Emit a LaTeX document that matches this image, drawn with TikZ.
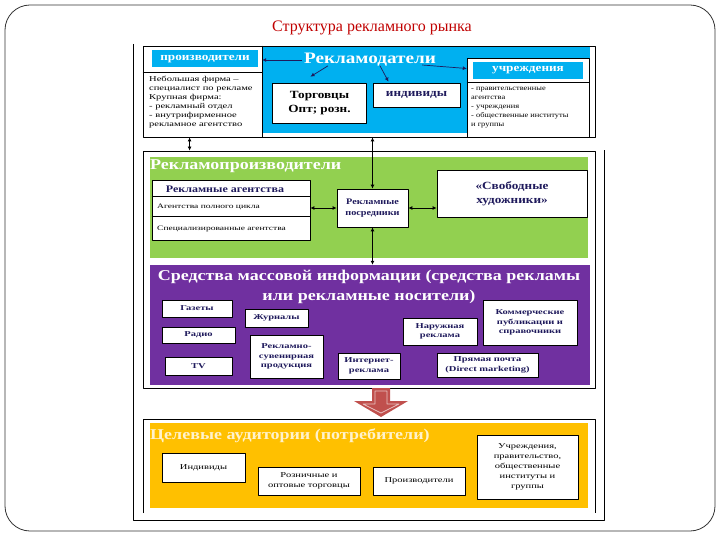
\documentclass[tikz,border=0pt]{standalone}
\usepackage{fontspec}
\setmainfont{Liberation Serif}
\newfontfamily\wf{Liberation Serif}[FakeStretch=1.2]
\newfontfamily\wfx{Liberation Serif}[FakeStretch=1.4]
\usetikzlibrary{arrows.meta,calc,positioning}
\definecolor{sky}{HTML}{00B0F0}
\definecolor{leaf}{HTML}{92D050}
\definecolor{plum}{HTML}{7030A0}
\definecolor{amber}{HTML}{FFC000}
\definecolor{ink}{HTML}{1F1A5C}
\definecolor{wine}{HTML}{C00000}
\definecolor{cream}{HTML}{FFF2CC}
\definecolor{brick}{HTML}{C0504D}
\newcommand{\fs}[2]{\fontsize{#1}{#2}\selectfont}

\begin{document}
\begin{tikzpicture}[x=1pt,y=-1pt,line join=round,
  card/.style={draw=black,fill=white,line width=.7pt,inner sep=0pt,align=center,text=ink},
  hdr/.style={fill=sky,text=white,inner sep=0pt,font=\wf\bfseries\fs{11}{12}},
  sectitle/.style={inner sep=0pt,font=\wf\bfseries\fs{15}{20}},
  small/.style={inner sep=0pt,align=left,font=\wfx\fs{7.5}{9}},
  dbl/.style={{Latex[length=4pt,width=4pt]}-{Latex[length=4pt,width=4pt]},line width=.8pt},
  arr/.style={-{Latex[length=4pt,width=4pt]},ink,line width=.7pt},
  sec/.style={draw=black,line width=.8pt,inner sep=0pt}]
  \path[use as bounding box] (0,0) rectangle (720,540);
  \draw[black!80,line width=.8pt,rounded corners=25pt] (5,5) rectangle (715,531);
  \node[text=wine,font=\fs{16}{18}] (title) at (372,28) {Структура рекламного рынка};
  \draw[line width=.7pt] (133,44) -- (133,520) -- (604,520) -- (604,150);

  % рекламодатели
  \fill[sky] (262,46) rectangle (590,133);
  \node[sec,minimum width=452,minimum height=91] (advsec) at (369,91.5) {};
  \draw[line width=.7pt] (advsec.north west -| 262,0) -- (advsec.south west -| 262,0);
  \draw[line width=.7pt] ([yshift=-27pt]advsec.north west) -- ++(119,0);
  \node[hdr,minimum width=106,minimum height=17] (prodhead) at (205,59) {производители};
  \node[small,anchor=north west] (prodtext) at (149,76) {Небольшая фирма –\\специалист по рекламе\\Крупная фирма:\\- рекламный отдел\\- внутрифирменное\\рекламное агентство};
  \node[sectitle,text=white,font=\wf\bfseries\fs{16}{20}] (rekl) at (370,60) {Рекламодатели};
  \node[card,text=black,font=\wf\bfseries\fs{11}{14},minimum width=94,minimum height=40] (torg) at (319.5,103) {Торговцы\\Опт; розн.};
  \node[card,font=\wf\bfseries\fs{11}{14},minimum width=87,minimum height=24] (indiv) at (416.5,95) {индивиды};
  \node[draw=black,fill=white,line width=.6pt,minimum width=122,minimum height=79,inner sep=0pt] (uchrbox) at (528,97.5) {};
  \draw[line width=.7pt] ([yshift=-25pt]uchrbox.north west) -- ([yshift=-25pt]uchrbox.north east);
  \node[hdr,minimum width=110,minimum height=17] (uchrhead) at (528,70.5) {учреждения};
  \node[small,anchor=north west,font=\wf\fs{7}{9}] (uchrtext) at (471,87) {- правительственные\\агентства\\- учреждения\\- общественные институты\\и группы};
  \draw[arr] ([xshift=-2pt]rekl.west) -- ([xshift=4pt]rekl.west -| prodhead.east);
  \draw[arr] ([xshift=-14pt,yshift=-5pt]rekl.east) -- ([xshift=-6pt,yshift=2pt]uchrhead.west);
  \draw[arr] ($(rekl.south)+(-42,-1)$) -- ($(torg.north)+(-9,-6)$);
  \draw[arr] ($(rekl.south)+(10,-1)$) -- ($(indiv.north)+(-28,-1)$);

  % рекламопроизводители и сми
  \node[fill=leaf,minimum width=438,minimum height=101,inner sep=0pt] (green) at (369,207.5) {};
  \node[fill=plum,minimum width=440,minimum height=120,inner sep=0pt] (smi) at (370,325) {};
  \node[sec,minimum width=452,minimum height=237] (prodsec) at (369,269.5) {};
  \node[sectitle,text=white,anchor=west] (greentitle) at (150,166) {Рекламопроизводители};
  \node[card,minimum width=158,minimum height=60] (agen) at (231,210) {};
  \draw[line width=.7pt] ([yshift=-17pt]agen.north west) -- ([yshift=-17pt]agen.north east);
  \draw[line width=.7pt] ([yshift=-37pt]agen.north west) -- ([yshift=-37pt]agen.north east);
  \node[inner sep=0pt,text=ink,font=\wf\bfseries\fs{10}{12}] (agenhead) at (225,189) {Рекламные агентства};
  \node[small,anchor=west,text=black,font=\wfx\fs{6.8}{8}] (agenfull) at (157,207) {Агентства полного цикла};
  \node[small,anchor=west,text=black,font=\wfx\fs{6.8}{8}] (agenspec) at (157,228.5) {Специализированные агентства};
  \node[card,font=\wf\bfseries\fs{8.5}{11},minimum width=71,minimum height=38] (posr) at (372.5,208) {Рекламные\\посредники};
  \node[card,font=\wf\bfseries\fs{11}{14},minimum width=150,minimum height=47] (hud) at (512,193.5) {«Свободные\\художники»};
  \draw[dbl] ([xshift=47pt]advsec.south west) -- ([xshift=47pt]prodsec.north west);
  \draw[dbl] (advsec.south -| posr.north) -- (posr.north);
  \draw[dbl] (posr.south) -- (smi.north -| posr.south);
  \draw[dbl] (posr.west -| agen.east) -- (posr.west);
  \draw[dbl] (posr.east) -- (posr.east -| hud.west);

  \node[sectitle,text=white,align=center] (smititle) at (369,287) {Средства массовой информации (средства рекламы\\или рекламные носители)};
  \foreach \nm/\cx/\cy/\w/\h/\txt in {gaz/197/308.5/70/17/Газеты, rad/198.5/335/73/16/Радио, tv/198.5/366/67/18/TV,
      zhur/276.5/318/63/18/Журналы, suv/286.5/356.5/73/43/{Рекламно-\\сувенирная\\продукция},
      inet/369/366/62/26/{Интернет-\\реклама}, nar/440/331.5/74/27/{Наружная\\реклама},
      pochta/487.5/365/101/24/{Прямая почта\\(Direct marketing)},
      komm/530/322.5/94/45/{Коммерческие\\публикации и\\справочники}}{
    \node[card,font=\wfx\bfseries\fs{7.5}{9.5},minimum width=\w,minimum height=\h] (\nm) at (\cx,\cy) {\txt};
  }

  % переход к аудитории
  \fill[brick] (372,388) -- (390,388) -- (390,401) -- (408,401) -- (381,417) -- (354,401) -- (372,401) -- cycle;
  \draw[brick!35!white,line width=.8pt] (375,391) -- (387,391) -- (387,404) -- (399,404) -- (381,413) -- (363,404) -- (375,404) -- cycle;

  % целевые аудитории
  \fill[amber] (150,423) rectangle (588,508);
  \draw[line width=.8pt] (143,513) |- (595,419) -- (595,513);
  \node[sectitle,text=cream,anchor=west] (audtitle) at (150,436) {Целевые аудитории (потребители)};
  \foreach \nm/\cx/\cy/\w/\h/\txt in {ind/203.5/467.5/83/29/Индивиды, rozn/309/481/102/28/{Розничные и\\оптовые торговцы},
      proizv/419/481/92/28/Производители,
      uchr/527.5/467/101/64/{Учреждения,\\правительство,\\общественные\\институты и\\группы}}{
    \node[card,text=black,font=\wfx\fs{7.5}{10},minimum width=\w,minimum height=\h] (\nm) at (\cx,\cy) {\txt};
  }
\end{tikzpicture}
\end{document}
